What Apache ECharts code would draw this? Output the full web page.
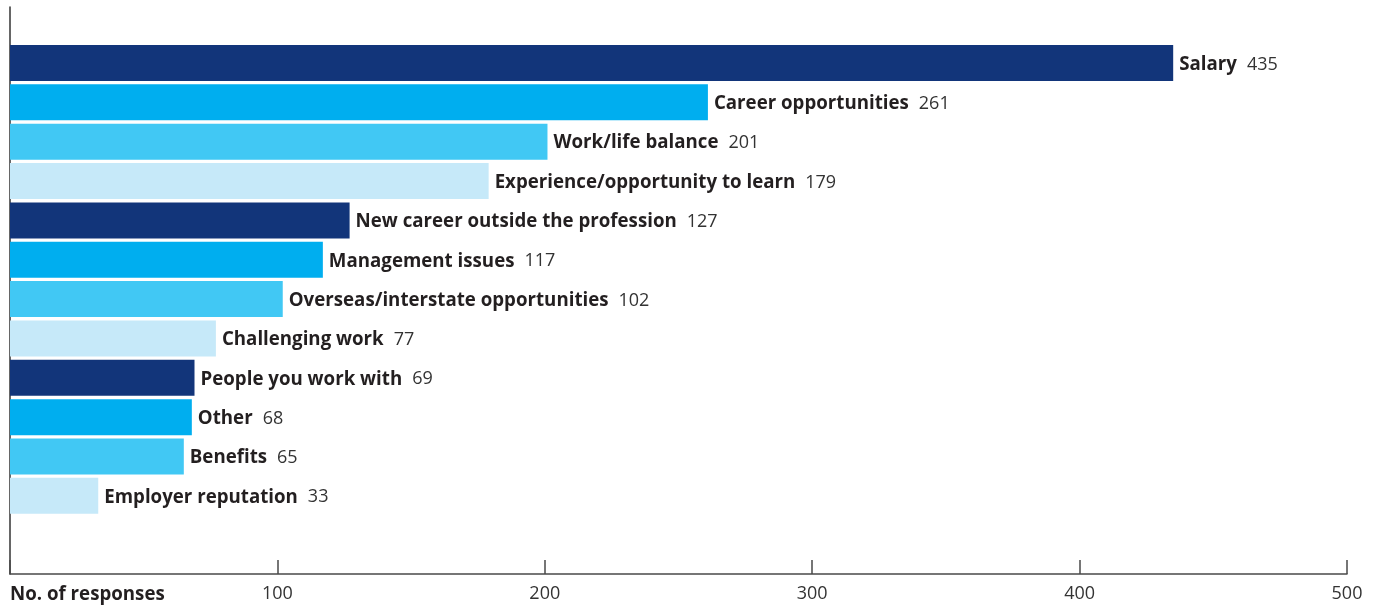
<!DOCTYPE html>
<html>
<head>
<meta charset="utf-8">
<script src="https://cdn.jsdelivr.net/npm/echarts@6/dist/echarts.min.js"></script>
<style>
html,body{margin:0;padding:0;background:#fff;}
#chart{width:1378px;height:610px;}
</style>
</head>
<body>
<div id="chart"></div>
<script>
const categories = [
  'Salary', 'Career opportunities', 'Work/life balance', 'Experience/opportunity to learn',
  'New career outside the profession', 'Management issues', 'Overseas/interstate opportunities',
  'Challenging work', 'People you work with', 'Other', 'Benefits', 'Employer reputation'
];
const values = [435, 261, 201, 179, 127, 117, 102, 77, 69, 68, 65, 33];
const palette = ['#12357A', '#00AEEF', '#41C8F4', '#C6E9F9'];
const axisTitle = 'No. of responses';
const xMin = 0, xMax = 500, xStep = 100;

const FONT = '"Open Sans"';
const chart = echarts.init(document.getElementById('chart'), null, {renderer: 'canvas'});
chart.setOption({
  animation: false,
  backgroundColor: '#ffffff',
  grid: [
    {left: 10, right: 31, top: 43.3, bottom: 94.5},
    {left: 10, right: 31, top: 7, bottom: 36}
  ],
  xAxis: [
    {type: 'value', gridIndex: 0, min: xMin, max: xMax, interval: xStep, show: false},
    {
      type: 'value', gridIndex: 1, min: xMin, max: xMax, interval: xStep,
      axisLine: {show: true, lineStyle: {color: '#4a4a4a', width: 1.5}},
      axisTick: {show: true, inside: true, length: 14, lineStyle: {color: '#4a4a4a', width: 1.5}},
      splitLine: {show: false},
      axisLabel: {
        margin: 11,
        color: '#333333',
        fontFamily: FONT,
        fontSize: 18,
        alignMinLabel: 'left',
        formatter: function (v) { return v === 0 ? '{t|' + axisTitle + '}' : String(v); },
        rich: {t: {fontFamily: FONT, fontSize: 18.7, fontWeight: 'bold', color: '#231F20'}}
      }
    }
  ],
  yAxis: [
    {type: 'category', gridIndex: 0, data: categories, inverse: true, show: false},
    {
      type: 'value', gridIndex: 1, min: 0, max: 1,
      axisLine: {show: true, lineStyle: {color: '#333333', width: 1.5}},
      axisTick: {show: false}, axisLabel: {show: false}, splitLine: {show: false}
    }
  ],
  series: [{
    type: 'bar',
    xAxisIndex: 0,
    yAxisIndex: 0,
    data: values.map((v, i) => ({value: v, itemStyle: {color: palette[i % palette.length]}})),
    barWidth: 36,
    label: {
      show: true,
      position: 'right',
      distance: 6,
      offset: [0, 1.5],
      formatter: '{n|{b}}{v|{c}}',
      rich: {
        n: {fontFamily: FONT, fontSize: 18.7, fontWeight: 'bold', color: '#231F20'},
        v: {fontFamily: FONT, fontSize: 18, color: '#333333', padding: [0, 0, 0, 10]}
      }
    }
  }]
});
</script>
</body>
</html>
